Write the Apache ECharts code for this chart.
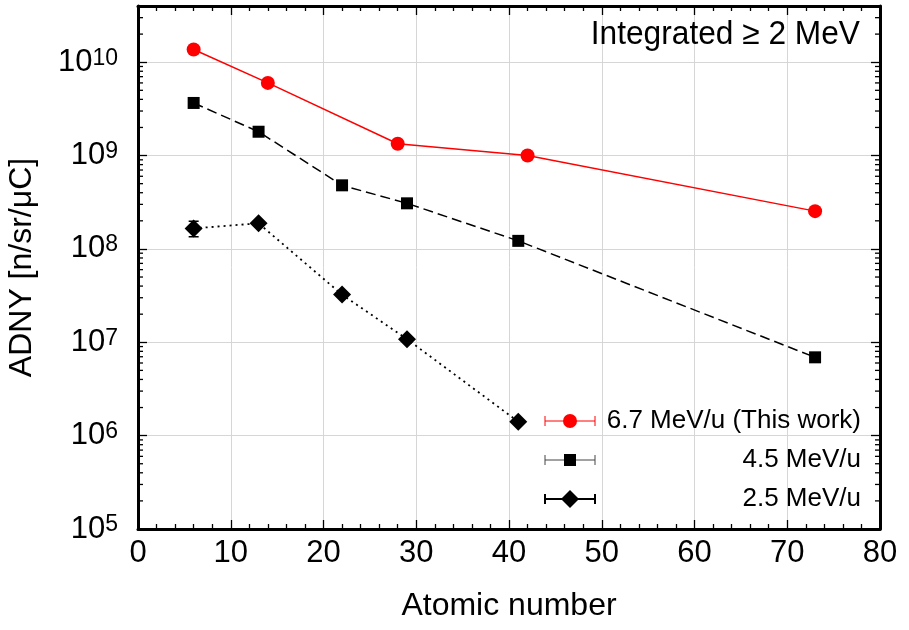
<!DOCTYPE html>
<html><head><meta charset="utf-8">
<script src="https://cdn.jsdelivr.net/npm/echarts@6/dist/echarts.min.js"></script>
<style>html,body{margin:0;padding:0;background:#fff}#c{width:909px;height:630px}</style>
</head><body><div id="c"></div><script>
// ---- data ----
const ionZ67 = [6, 14, 28, 42, 73];
const adny67 = [1.37e10, 6.0e9, 1.34e9, 1.0e9, 2.54e8];
const ionZ45 = [6, 13, 22, 29, 41, 73];
const adny45 = [3.66e9, 1.8e9, 4.8e8, 3.08e8, 1.22e8, 6.9e6];
const ionZ25 = [6, 13, 22, 29, 41];
const adny25 = [1.66e8, 1.88e8, 3.24e7, 1.08e7, 1.41e6];
const err25Z = [6];
const err25Low = [1.35e8];
const err25High = [1.98e8];
const seriesNames = ['6.7 MeV/u (This work)', '4.5 MeV/u', '2.5 MeV/u'];
const xTicks = [0, 10, 20, 30, 40, 50, 60, 70, 80];
const yMin = 1e5, yMax = 4e10;
const annotation = 'Integrated \u2265 2 MeV';
const xTitle = 'Atomic number';
const yTitle = 'ADNY [n/sr/\u03bcC]';

const FONT = "'Liberation Sans', Arial, Helvetica, sans-serif";
const zip = (xs, ys) => xs.map((x, i) => [x, ys[i]]);

// log minor tick values
const minorVals = [];
for (let e = 5; e <= 10; e++) for (let m = 2; m <= 9; m++) {
  const v = m * Math.pow(10, e); if (v < yMax) minorVals.push(v);
}

const chart = echarts.init(document.getElementById('c'), null, {renderer: 'canvas'});
const tickStyle = {color: '#000', width: 1.3};
const axisLineStyle = {color: '#000', width: 3};

function yLabel(v) {
  const e = Math.log10(v);
  if (Math.abs(e - Math.round(e)) > 1e-6) return '';
  return '{b|10}{e|' + Math.round(e) + '}';
}

const option = {
  animation: false,
  backgroundColor: '#fff',
  textStyle: {fontFamily: FONT},
  grid: {left: 138, right: 29, top: 6, bottom: 101, containLabel: false, outerBoundsMode: 'none'},
  xAxis: [{
    type: 'value', min: xTicks[0], max: xTicks[xTicks.length - 1], interval: 10,
    position: 'bottom',
    name: xTitle, nameLocation: 'middle', nameGap: 61,
    nameTextStyle: {fontSize: 32, color: '#000', fontFamily: FONT},
    axisLine: {show: true, onZero: false, lineStyle: axisLineStyle},
    axisTick: {show: true, inside: true, length: 9, lineStyle: tickStyle},
    minorTick: {show: true, splitNumber: 5, length: 5, lineStyle: tickStyle},
    axisLabel: {fontSize: 31, color: '#000', margin: 9, fontFamily: FONT},
    splitLine: {show: true, lineStyle: {color: '#d6d6d6', width: 1}}
  }, {
    type: 'value', min: xTicks[0], max: xTicks[xTicks.length - 1], interval: 10,
    position: 'top',
    axisLine: {show: true, onZero: false, lineStyle: axisLineStyle},
    axisTick: {show: true, inside: true, length: 9, lineStyle: tickStyle},
    minorTick: {show: true, splitNumber: 5, length: 5, lineStyle: tickStyle},
    axisLabel: {show: false},
    splitLine: {show: false}
  }],
  yAxis: [{
    type: 'log', logBase: 10, min: yMin, max: yMax, position: 'left',
    name: yTitle, nameLocation: 'middle', nameGap: 100, nameRotate: 90,
    nameTextStyle: {fontSize: 32, color: '#000', fontFamily: FONT},
    axisLine: {show: true, onZero: false, lineStyle: axisLineStyle},
    axisTick: {show: true, inside: true, length: 9, lineStyle: tickStyle},
    axisLabel: {
      margin: 20, color: '#000', formatter: yLabel,
      rich: {
        b: {fontSize: 31, lineHeight: 31, verticalAlign: 'bottom', padding: [9, 0, 0, 0], fontFamily: FONT, color: '#000'},
        e: {fontSize: 23, lineHeight: 23, verticalAlign: 'top', fontFamily: FONT, color: '#000'}
      }
    },
    splitLine: {show: true, lineStyle: {color: '#d6d6d6', width: 1}}
  }, {
    type: 'log', logBase: 10, min: yMin, max: yMax, position: 'right',
    axisLine: {show: true, onZero: false, lineStyle: axisLineStyle},
    axisTick: {show: true, inside: true, length: 9, lineStyle: tickStyle},
    axisLabel: {show: false},
    splitLine: {show: false}
  }],
  series: [
    {
      type: 'custom', name: 'minorTicks', silent: true, clip: false, z: 5,
      data: [[0, yMin]],
      renderItem: function (params, api) {
        const children = [];
        minorVals.forEach(v => {
          const p = api.coord([0, v]);
          const q = api.coord([80, v]);
          children.push({type: 'line', shape: {x1: p[0], y1: p[1], x2: p[0] + 5, y2: p[1]}, style: {stroke: '#000', lineWidth: 1.3}});
          children.push({type: 'line', shape: {x1: q[0], y1: q[1], x2: q[0] - 5, y2: q[1]}, style: {stroke: '#000', lineWidth: 1.3}});
        });
        return {type: 'group', children: children};
      }
    },
    {
      type: 'line', name: seriesNames[0], data: zip(ionZ67, adny67),
      symbol: 'circle', symbolSize: 14, z: 4,
      lineStyle: {color: '#ff0000', width: 1.5},
      itemStyle: {color: '#ff0000'}
    },
    {
      type: 'line', name: seriesNames[1], data: zip(ionZ45, adny45),
      symbol: 'rect', symbolSize: 12, z: 3,
      lineStyle: {color: '#000', width: 1.5, type: [10, 5]},
      itemStyle: {color: '#000'}
    },
    {
      type: 'custom', name: 'err25', z: 2, clip: false,
      data: err25Z.map((z, i) => [z, err25Low[i], err25High[i]]),
      renderItem: function (params, api) {
        const lo = api.coord([api.value(0), api.value(1)]);
        const hi = api.coord([api.value(0), api.value(2)]);
        const st = {stroke: '#000', lineWidth: 1.5};
        return {type: 'group', children: [
          {type: 'line', shape: {x1: lo[0], y1: lo[1], x2: hi[0], y2: hi[1]}, style: st},
          {type: 'line', shape: {x1: lo[0] - 5, y1: lo[1], x2: lo[0] + 5, y2: lo[1]}, style: st},
          {type: 'line', shape: {x1: hi[0] - 5, y1: hi[1], x2: hi[0] + 5, y2: hi[1]}, style: st}
        ]};
      }
    },
    {
      type: 'line', name: seriesNames[2], data: zip(ionZ25, adny25),
      symbol: 'diamond', symbolSize: 18, z: 3,
      lineStyle: {color: '#000', width: 1.8, type: [2, 4]},
      itemStyle: {color: '#000'}
    }
  ],
  graphic: []
};

// legend (drawn as graphics with error-bar style samples)
const legRows = [421, 460, 499];
const legStyles = [
  {stroke: '#ff0000', w: 1, marker: 'circle', color: '#ff0000'},
  {stroke: '#444', w: 1, marker: 'square', color: '#000'},
  {stroke: '#000', w: 2, marker: 'diamond', color: '#000'}
];
legRows.forEach((y, i) => {
  const s = legStyles[i];
  const ls = {stroke: s.stroke, lineWidth: s.w};
  option.graphic.push({type: 'line', shape: {x1: 545, y1: y, x2: 595, y2: y}, style: ls, z: 100});
  option.graphic.push({type: 'line', shape: {x1: 545, y1: y - 5, x2: 545, y2: y + 5}, style: ls, z: 100});
  option.graphic.push({type: 'line', shape: {x1: 595, y1: y - 5, x2: 595, y2: y + 5}, style: ls, z: 100});
  if (s.marker === 'circle') option.graphic.push({type: 'circle', shape: {cx: 570, cy: y, r: 7}, style: {fill: s.color}, z: 101});
  if (s.marker === 'square') option.graphic.push({type: 'rect', shape: {x: 564, y: y - 6, width: 12, height: 12}, style: {fill: s.color}, z: 101});
  if (s.marker === 'diamond') option.graphic.push({type: 'polygon', shape: {points: [[570, y - 9], [579, y], [570, y + 9], [561, y]]}, style: {fill: s.color}, z: 101});
  option.graphic.push({type: 'text', x: 861, y: y, style: {text: seriesNames[i], font: '26px ' + FONT, fill: '#000', textAlign: 'right', textVerticalAlign: 'middle'}, z: 101});
});
option.graphic.push({type: 'text', x: 860, y: 35, scaleX: 0.96, style: {text: annotation, font: '33px ' + FONT, fill: '#000', textAlign: 'right', textVerticalAlign: 'middle'}, z: 101});

chart.setOption(option);
</script></body></html>
